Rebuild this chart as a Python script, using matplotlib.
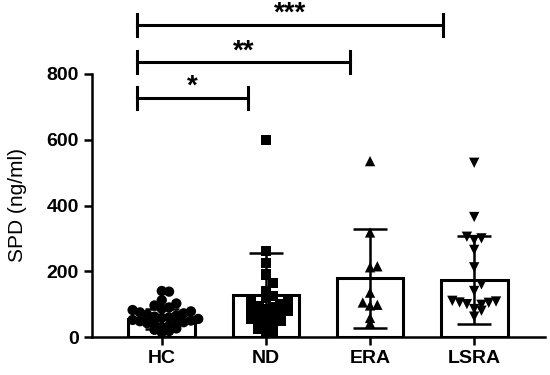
import numpy as np
import matplotlib
matplotlib.use("Agg")
import matplotlib.pyplot as plt

plt.rcParams['font.family'] = ['Liberation Sans', 'DejaVu Sans']

groups = ['HC', 'ND', 'ERA', 'LSRA']
means = [55, 128, 178, 174]
sds = [30, 127, 152, 133]
markers = ['o', 's', '^', 'v']

hc = [140, 138, 112, 102, 96, 90, 86, 82, 78, 75, 72, 68, 65, 62, 60, 58,
      55, 52, 50, 48, 45, 42, 40, 37, 34, 30, 26, 22, 18, 14]
nd = [600, 262, 225, 190, 165, 140, 125, 118, 110, 105, 100, 95, 90, 85, 80,
      78, 75, 70, 65, 60, 55, 50, 45, 40, 30, 25, 20, 15]
era = [535, 318, 215, 212, 135, 105, 98, 96, 58, 42]
lsra = [530, 365, 305, 300, 295, 265, 212, 160, 140, 110, 108, 105, 104, 100,
        98, 85, 80, 62]
points = [hc, nd, era, lsra]

# significance brackets: (start, end, y, label)
brackets = [(-0.24, 0.83, 727, '*'), (-0.24, 1.81, 836, '**'),
            (-0.24, 2.70, 949, '***')]


def swarm(vals, step=0.07, binsize=28):
    # spread points with similar values sideways
    vals = np.asarray(vals, dtype=float)
    order = np.argsort(vals)
    offs = np.zeros(len(vals))
    bins = {}
    for i in order:
        b = int(vals[i] // binsize)
        k = bins.get(b, 0)
        bins[b] = k + 1
        sign = 1 if k % 2 else -1
        offs[i] = sign * ((k + 1) // 2) * step if k else 0.0
    return offs


fig = plt.figure(figsize=(5.5, 3.75), dpi=100)
ax = fig.add_axes([92 / 550, 38 / 375, 453 / 550, 263 / 375])

x = np.arange(len(groups))
ax.bar(x, means, width=0.64, color='white', edgecolor='black',
       linewidth=2.2, zorder=1)
ax.errorbar(x, means, yerr=sds, fmt='none', ecolor='black', elinewidth=1.8,
            capsize=12, capthick=1.8, zorder=2)

for i, vals in enumerate(points):
    xs = i + swarm(vals)
    ax.scatter(xs, vals, marker=markers[i], s=55, color='black',
               edgecolors='none', zorder=3)

for x0, x1, y, lab in brackets:
    ax.plot([x0, x1], [y, y], color='black', lw=2.2, clip_on=False)
    for xe in (x0, x1):
        ax.plot([xe, xe], [y - 33, y + 33], color='black', lw=2.2,
                clip_on=False)
    ax.text((x0 + x1) / 2, y + 12, lab, ha='center', va='baseline',
            fontsize=20, fontweight='bold', clip_on=False)

ax.set_xlim(-0.67, 3.68)
ax.set_ylim(0, 800)
ax.set_yticks([0, 200, 400, 600, 800])
ax.set_xticks(x)
ax.set_xticklabels(groups)
ax.set_ylabel('SPD (ng/ml)', fontsize=15)
ax.yaxis.set_label_coords(-0.143, 0.5)
ax.tick_params(axis='both', labelsize=14, width=1.8, length=6)
for lab in ax.get_xticklabels() + ax.get_yticklabels():
    lab.set_fontweight('bold')
ax.spines['top'].set_visible(False)
ax.spines['right'].set_visible(False)
ax.spines['left'].set_linewidth(1.8)
ax.spines['bottom'].set_linewidth(1.8)

fig.savefig('out.png', dpi=100)
